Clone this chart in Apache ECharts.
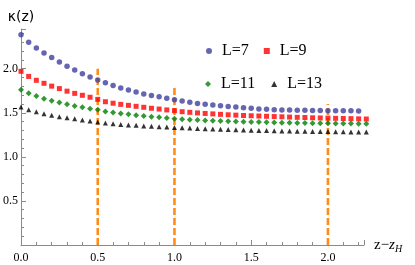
<!DOCTYPE html>
<html><head><meta charset="utf-8">
<script src="https://cdn.jsdelivr.net/npm/echarts@6/dist/echarts.min.js"></script>
<style>html,body{margin:0;padding:0;background:#fff}#c{width:415px;height:265px}</style>
</head><body><div id="c"></div>
<script>
var zValues = [0.00,0.05,0.10,0.15,0.20,0.25,0.30,0.35,0.40,0.45,0.50,0.55,0.60,0.65,0.70,0.75,0.80,0.85,0.90,0.95,
  1.00,1.05,1.10,1.15,1.20,1.25,1.30,1.35,1.40,1.45,1.50,1.55,1.60,1.65,1.70,1.75,1.80,1.85,1.90,1.95,
  2.00,2.05,2.10,2.15,2.20,2.25];
var kappaL7 = [2.385,2.300,2.235,2.178,2.128,2.077,2.027,1.985,1.943,1.905,1.872,1.840,1.810,1.782,1.758,1.735,1.714,1.697,1.681,1.664,
  1.648,1.633,1.618,1.606,1.596,1.587,1.579,1.571,1.564,1.557,1.550,1.544,1.539,1.535,1.532,1.530,1.528,1.527,1.526,1.525,
  1.524,1.523,1.522,1.522,1.521];
var kappaL9 = [1.970,1.912,1.868,1.834,1.802,1.774,1.745,1.720,1.698,1.676,1.652,1.625,1.608,1.595,1.584,1.573,1.562,1.551,1.542,1.532,
  1.524,1.512,1.505,1.498,1.492,1.487,1.482,1.477,1.473,1.469,1.466,1.463,1.460,1.457,1.454,1.451,1.448,1.446,1.443,1.441,
  1.439,1.437,1.435,1.433,1.431,1.429];
var kappaL11 = [1.761,1.722,1.690,1.660,1.636,1.617,1.596,1.578,1.562,1.546,1.533,1.515,1.502,1.491,1.482,1.472,1.463,1.455,1.448,1.440,
  1.433,1.427,1.422,1.417,1.413,1.409,1.406,1.403,1.400,1.398,1.396,1.394,1.392,1.390,1.388,1.387,1.385,1.384,1.382,1.381,
  1.380,1.379,1.378,1.377,1.376,1.375];
var kappaL13 = [1.565,1.535,1.510,1.488,1.471,1.456,1.443,1.431,1.418,1.406,1.395,1.383,1.376,1.368,1.362,1.357,1.351,1.346,1.342,1.338,
  1.334,1.330,1.326,1.322,1.318,1.315,1.312,1.309,1.306,1.304,1.302,1.300,1.298,1.296,1.294,1.292,1.291,1.289,1.288,1.287,
  1.286,1.285,1.284,1.283,1.282,1.281];
var seriesNames = ['L=7','L=9','L=11','L=13'];
var guideX = [0.5, 1.0, 2.0];
var guideTop = [2.0, 1.8, 1.6];
var xTicks = ['0.0','0.5','1.0','1.5','2.0'];
var yTicks = ['0.5','1.0','1.5','2.0'];

function pairs(ys){ var out=[]; for(var i=0;i<ys.length;i++){ out.push([zValues[i], ys[i]]); } return out; }

var serif = "'Liberation Serif', 'Times New Roman', serif";
var chart = echarts.init(document.getElementById('c'), null, {renderer:'canvas'});

var guideSeries = guideX.map(function(x, i){
  return {
    type:'line', name:'guide'+i, data:[[x,0],[x,guideTop[i]]], symbol:'none', z:1,
    lineStyle:{color:'#FF8C1A', width:2.6, type:[7,3]}, silent:true, animation:false
  };
});

var option = {
  animation:false,
  grid:{left:20, right:51, top:29, bottom:20, containLabel:false},
  legend:[
    {data:['L=7','L=9'], left:201, top:38, itemWidth:6, itemHeight:6, itemGap:15,
     textStyle:{fontFamily:serif, fontSize:16, color:'#000', padding:[0,0,0,5]}},
    {data:['L=11','L=13'], left:200, top:71, itemWidth:6, itemHeight:6, itemGap:16,
     textStyle:{fontFamily:serif, fontSize:16, color:'#000', padding:[0,0,0,5]}}
  ],
  xAxis:{
    type:'value', min:0, max:2.235, interval:0.5,
    name:'{a|z\u2212}{b|z}{c|H}', nameLocation:'end', nameGap:10,
    nameTextStyle:{rich:{
      a:{fontFamily:serif, fontSize:15, color:'#000'},
      b:{fontFamily:serif, fontSize:15, fontStyle:'italic', color:'#000'},
      c:{fontFamily:serif, fontSize:10, fontStyle:'italic', color:'#000', padding:[8,0,0,0]}
    }},
    axisLine:{lineStyle:{color:'#8a8a8a', width:1}},
    axisTick:{inside:true, length:5, lineStyle:{color:'#8a8a8a'}},
    minorTick:{show:true, splitNumber:5, length:3, lineStyle:{color:'#8a8a8a'}},
    splitLine:{show:false},
    axisLabel:{showMaxLabel:false, margin:7, fontFamily:serif, fontSize:12, color:'#000',
      formatter:function(v){ var s=v.toFixed(1); return xTicks.indexOf(s)>=0 ? s : ''; }}
  },
  yAxis:{
    type:'value', min:0, max:2.45, interval:0.5,
    name:'\u03BA(z)', nameLocation:'end', nameGap:5,
    nameTextStyle:{fontFamily:'DejaVu Sans', fontSize:14, color:'#000', align:'center'},
    axisLine:{show:true, lineStyle:{color:'#8a8a8a', width:1}},
    axisTick:{show:true, inside:true, length:5, lineStyle:{color:'#8a8a8a'}},
    minorTick:{show:true, splitNumber:5, length:3, lineStyle:{color:'#8a8a8a'}},
    splitLine:{show:false},
    axisLabel:{showMaxLabel:false, margin:3, fontFamily:serif, fontSize:12, color:'#000',
      formatter:function(v){ var s=v.toFixed(1); return yTicks.indexOf(s)>=0 ? s : ''; }}
  },
  series: guideSeries.concat([
    {type:'scatter', name:seriesNames[0], data:pairs(kappaL7), symbol:'circle', symbolSize:5.5, z:3,
     itemStyle:{color:'#3F3F9E'}, clip:false},
    {type:'scatter', name:seriesNames[1], data:pairs(kappaL9), symbol:'rect', symbolSize:5, z:3,
     itemStyle:{color:'#FF0000'}, clip:false},
    {type:'scatter', name:seriesNames[2], data:pairs(kappaL11), symbol:'diamond', symbolSize:6, z:3,
     itemStyle:{color:'#008000'}, clip:false},
    {type:'scatter', name:seriesNames[3], data:pairs(kappaL13), symbol:'triangle', symbolSize:5, z:3,
     itemStyle:{color:'#000000'}, clip:false}
  ])
};
chart.setOption(option);
</script></body></html>
